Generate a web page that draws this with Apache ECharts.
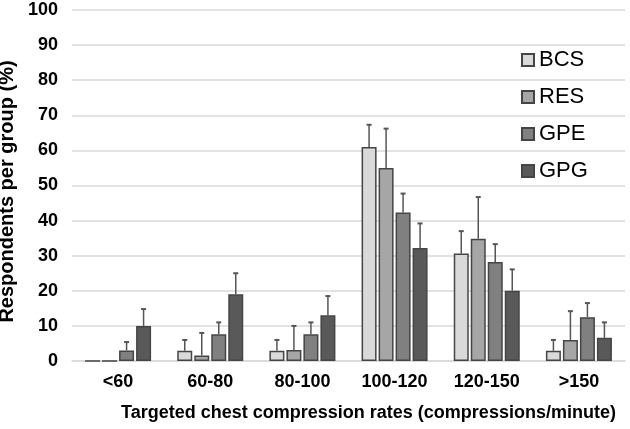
<!DOCTYPE html>
<html><head><meta charset="utf-8">
<script src="https://cdn.jsdelivr.net/npm/echarts@6/dist/echarts.min.js"></script>
<style>html,body{margin:0;padding:0;background:#fff}#c{width:630px;height:429px}</style>
</head><body><div id="c"></div>
<script>
const categories = ['<60','60-80','80-100','100-120','120-150','>150'];
const seriesNames = ['BCS','RES','GPE','GPG'];
const BCS = [0, 2.9, 2.9, 61, 30.6, 2.9];
const RES = [0, 1.6, 3.1, 55, 34.8, 6];
const GPE = [3, 7.6, 7.6, 42.3, 28.2, 12.5];
const GPG = [10, 19, 13, 32.2, 20, 6.6];
const BCS_err = [0, 6, 6, 67.3, 37, 6];
const RES_err = [0, 8, 10, 66.2, 46.7, 14.2];
const GPE_err = [5.4, 11, 11, 47.7, 33.3, 16.5];
const GPG_err = [14.8, 25, 18.5, 39.2, 26.1, 11];
const yTicks = [0,10,20,30,40,50,60,70,80,90,100];

const values = [BCS, RES, GPE, GPG];
const errs = [BCS_err, RES_err, GPE_err, GPG_err];
const colors = ['#d9d9d9','#a6a6a6','#808080','#595959'];
const BW = 15, GAP = 2;
const font = 'Liberation Sans, Arial, sans-serif';

const chart = echarts.init(document.getElementById('c'));
const series = [];
values.forEach((v, i) => {
  series.push({
    name: seriesNames[i], type: 'bar', data: v, barWidth: BW, barGap: (GAP/BW*100)+'%',
    itemStyle: {color: colors[i], borderColor: '#454545', borderWidth: 1.5},
    z: 2
  });
});
errs.forEach((e, i) => {
  const off = -(4*BW+3*GAP)/2 + BW/2 + i*(BW+GAP);
  series.push({
    type: 'custom', name: seriesNames[i]+'_err', z: 5, silent: true,
    data: categories.map((c, k) => [k, values[i][k], e[k]]),
    renderItem: function (params, api) {
      const k = api.value(0);
      const base = api.coord([k, api.value(1)]);
      const top = api.coord([k, api.value(2)]);
      const x = base[0] + off;
      if (api.value(2) <= api.value(1)) return {type:'group', children:[]};
      return {type: 'group', children: [
        {type:'line', shape:{x1:x, y1:base[1], x2:x, y2:top[1]}, style:{stroke:'#555', lineWidth:1.5}},
        {type:'line', shape:{x1:x-2.5, y1:top[1], x2:x+2.5, y2:top[1]}, style:{stroke:'#555', lineWidth:2}}
      ]};
    }
  });
});

chart.setOption({
  animation: false,
  grid: {left: 72, right: 5, top: 10, bottom: 68, containLabel: false, outerBoundsMode: 'none'},
  legend: {
    data: seriesNames, orient: 'vertical', left: 516, top: 44,
    itemWidth: 12, itemHeight: 12, itemGap: 15,
    textStyle: {fontFamily: font, fontSize: 22, color: '#000'},
    icon: 'rect'
  },
  xAxis: {
    type: 'category', data: categories,
    axisLine: {lineStyle: {color: '#d9d9d9', width: 1.5}},
    axisTick: {show: false},
    axisLabel: {fontFamily: font, fontWeight: 'bold', fontSize: 18, color: '#000', margin: 12},
    name: 'Targeted chest compression rates (compressions/minute)',
    nameLocation: 'middle', nameGap: 43,
    nameTextStyle: {fontFamily: font, fontWeight: 'bold', fontSize: 18, color: '#000', padding: [0,0,0,40]}
  },
  yAxis: {
    type: 'value', min: 0, max: 100, interval: 10,
    axisLine: {show: false}, axisTick: {show: false},
    splitLine: {lineStyle: {color: '#d9d9d9', width: 1.5}},
    axisLabel: {fontFamily: font, fontWeight: 'bold', fontSize: 18, color: '#000', margin: 14,
      formatter: v => yTicks.includes(v) ? String(v) : ''},
    name: 'Respondents per group (%)', nameLocation: 'middle', nameGap: 49,
    nameTextStyle: {fontFamily: font, fontWeight: 'bold', fontSize: 20, color: '#000', padding: [0,12,0,0]}
  },
  series: series
});
</script></body></html>
